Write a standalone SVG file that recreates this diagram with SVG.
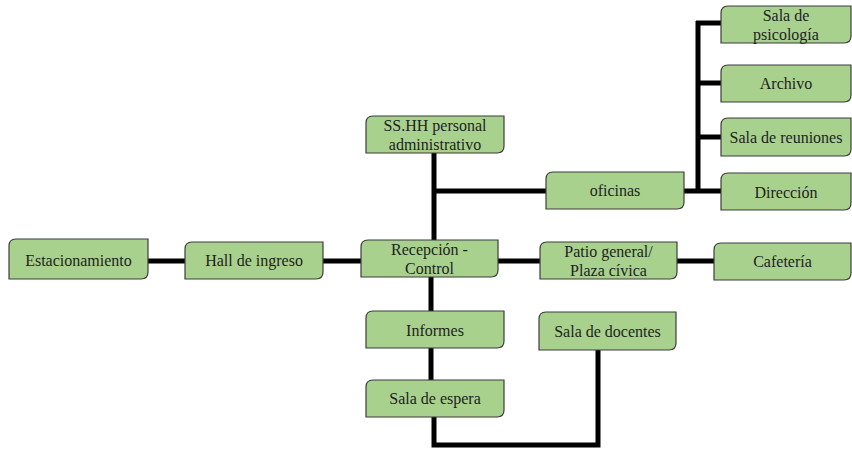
<svg xmlns="http://www.w3.org/2000/svg" width="852" height="450" viewBox="0 0 852 450">
  <style>
    .box { fill: #a9d18e; stroke: #3c3c3c; stroke-width: 1.2; }
    .lbl { font-family: "Liberation Serif", "Times New Roman", serif; font-size: 16px; fill: #1e1e1e; text-anchor: middle; }
    .wire { fill: none; stroke: #000; stroke-width: 5; stroke-linejoin: miter; }
  </style>
  <rect width="852" height="450" fill="#fff"/>

  <!-- connectors -->
  <g id="connectors">
    <path class="wire" d="M148 261 H185"/>
    <path class="wire" d="M323 261 H361"/>
    <path class="wire" d="M498 261 H540"/>
    <path class="wire" d="M677 261 H714"/>
    <path class="wire" d="M434 153 V240"/>
    <path class="wire" d="M434 191 H546"/>
    <path class="wire" d="M684 191 H721"/>
    <path class="wire" d="M698 21 V193"/>
    <path class="wire" d="M696 23 H721"/>
    <path class="wire" d="M696 83 H721"/>
    <path class="wire" d="M696 137 H721"/>
    <path class="wire" d="M431 277 V311"/>
    <path class="wire" d="M431 348 V380"/>
    <path class="wire" d="M434 417 V445 H598 V350"/>
  </g>

  <!-- nodes: rectangles with rounded top-left and bottom-right corners -->
  <g id="estacionamiento">
    <path class="box" d="M16 239 H148 V272 Q148 279 141 279 H9 V246 Q9 239 16 239 Z"/>
    <text class="lbl" x="78.5" y="266">Estacionamiento</text>
  </g>
  <g id="hall-ingreso">
    <path class="box" d="M192 242 H323 V272 Q323 279 316 279 H185 V249 Q185 242 192 242 Z"/>
    <text class="lbl" x="254" y="266">Hall de ingreso</text>
  </g>
  <g id="recepcion">
    <path class="box" d="M368 240 H498 V270 Q498 277 491 277 H361 V247 Q361 240 368 240 Z"/>
    <text class="lbl" x="429.5" y="255">Recepción -</text>
    <text class="lbl" x="429.5" y="274">Control</text>
  </g>
  <g id="sshh">
    <path class="box" d="M373 116 H504 V146 Q504 153 497 153 H366 V123 Q366 116 373 116 Z"/>
    <text class="lbl" x="435" y="131">SS.HH personal</text>
    <text class="lbl" x="435" y="150">administrativo</text>
  </g>
  <g id="oficinas">
    <path class="box" d="M553 172 H684 V202 Q684 209 677 209 H546 V179 Q546 172 553 172 Z"/>
    <text class="lbl" x="615" y="196">oficinas</text>
  </g>
  <g id="patio">
    <path class="box" d="M547 242 H677 V272 Q677 279 670 279 H540 V249 Q540 242 547 242 Z"/>
    <text class="lbl" x="608.5" y="256.5">Patio general/</text>
    <text class="lbl" x="608.5" y="275.5">Plaza cívica</text>
  </g>
  <g id="cafeteria">
    <path class="box" d="M721 243 H851 V273 Q851 280 844 280 H714 V250 Q714 243 721 243 Z"/>
    <text class="lbl" x="782.5" y="267">Cafetería</text>
  </g>
  <g id="psicologia">
    <path class="box" d="M728 6 H851 V36 Q851 43 844 43 H721 V13 Q721 6 728 6 Z"/>
    <text class="lbl" x="786" y="21">Sala de</text>
    <text class="lbl" x="786" y="40">psicología</text>
  </g>
  <g id="archivo">
    <path class="box" d="M728 65 H851 V95 Q851 102 844 102 H721 V72 Q721 65 728 65 Z"/>
    <text class="lbl" x="786" y="89">Archivo</text>
  </g>
  <g id="reuniones">
    <path class="box" d="M728 118 H851 V149 Q851 156 844 156 H721 V125 Q721 118 728 118 Z"/>
    <text class="lbl" x="786" y="143">Sala de reuniones</text>
  </g>
  <g id="direccion">
    <path class="box" d="M728 173 H851 V203 Q851 210 844 210 H721 V180 Q721 173 728 173 Z"/>
    <text class="lbl" x="786" y="198">Dirección</text>
  </g>
  <g id="informes">
    <path class="box" d="M373 311 H504 V341 Q504 348 497 348 H366 V318 Q366 311 373 311 Z"/>
    <text class="lbl" x="435" y="336">Informes</text>
  </g>
  <g id="sala-espera">
    <path class="box" d="M373 380 H504 V410 Q504 417 497 417 H366 V387 Q366 380 373 380 Z"/>
    <text class="lbl" x="435" y="404">Sala de espera</text>
  </g>
  <g id="sala-docentes">
    <path class="box" d="M546 312 H676 V343 Q676 350 669 350 H539 V319 Q539 312 546 312 Z"/>
    <text class="lbl" x="607.5" y="337">Sala de docentes</text>
  </g>
</svg>
